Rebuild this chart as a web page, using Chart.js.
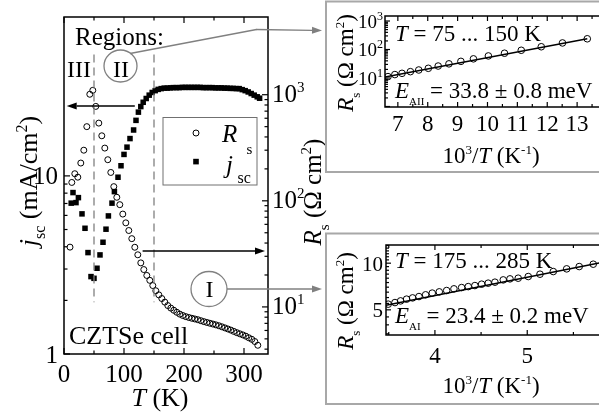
<!DOCTYPE html>
<html>
<head>
<meta charset="utf-8">
<script src="https://cdn.jsdelivr.net/npm/chart.js@4.4.0/dist/chart.umd.min.js"></script>
<style>
  html, body { margin: 0; padding: 0; background: #fff; }
  #wrap { position: relative; width: 599px; height: 417px; overflow: hidden; }
  #wrap canvas { position: absolute; left: 0; top: 0; }
</style>
</head>
<body>
<div id="wrap">
  <canvas id="mainChart" width="640" height="417"></canvas>
  <canvas id="topInset" width="640" height="417"></canvas>
  <canvas id="botInset" width="640" height="417"></canvas>
</div>
<script>
// main panel: series resistance R_s (right axis) and j_sc (left axis) vs T
const rsT = [10, 13, 18, 23, 28, 33, 38, 43, 48, 53, 58, 63, 68, 73, 78, 83, 88, 93, 98, 103,
  108, 113, 118, 123, 128, 133, 138, 143, 148, 153, 158, 163, 168, 173, 178, 183, 188, 193, 198, 203,
  208, 213, 218, 223, 228, 233, 238, 243, 248, 253, 258, 263, 268, 273, 278, 283, 288, 293, 298, 303,
  308, 313, 318, 323];
const rsVal = [36.6, 149, 180, 167, 227, 300, 500, 1010, 1100, 776, 540, 410, 314, 244, 185, 136, 108, 92, 75, 62,
  52.5, 44, 36.5, 31, 26, 22.5, 19.8, 17.8, 15.9, 14.2, 13.0, 12.0, 11.1, 10.3, 9.75, 9.3, 8.9, 8.55, 8.3, 8.1,
  7.95, 7.82, 7.7, 7.58, 7.42, 7.27, 7.14, 7.02, 6.9, 6.78, 6.65, 6.5, 6.35, 6.2, 6.05, 5.88, 5.72, 5.58, 5.45, 5.3,
  5.12, 4.95, 4.72, 4.35];

const jscT = [12, 15, 20, 24, 30, 35, 40, 45, 50, 55, 60, 65, 70, 74, 80, 84, 90, 95, 100, 105,
  110, 116, 120, 124, 128, 132, 137, 142, 147, 152, 157, 162, 167, 172, 177, 182, 187, 192, 197, 202,
  207, 212, 217, 222, 227, 232, 237, 242, 247, 252, 257, 262, 267, 272, 277, 282, 287, 292, 297, 302,
  307, 312, 317, 322, 326];
const jscVal = [7.03, 8.06, 7.08, 7.55, 6.12, 5.08, 3.71, 2.72, 2.66, 3.03, 3.6, 4.24, 5.02, 5.96, 7.03, 8.16, 9.83, 11.4, 13.2, 14.5,
  16.2, 18.1, 20.5, 22.8, 24.5, 25.9, 27.2, 28.4, 29.4, 30.1, 30.6, 30.9, 31.1, 31.1, 31.2, 31.3, 31.3, 31.3, 31.4, 31.4,
  31.4, 31.4, 31.4, 31.4, 31.4, 31.3, 31.3, 31.3, 31.3, 31.2, 31.2, 31.2, 31.1, 31.1, 31.0, 31.0, 30.9, 30.9, 30.5, 30.1,
  29.6, 29.0, 28.4, 27.8, 27.3];

const regionBorders = [50, 150];
const mainXTicks = [0, 100, 200, 300];
const jscTicks = [1, 10];
const rsTicks = [10, 100, 1000];
const rsTickExp = ['1', '2', '3'];

// inset II: T = 75 ... 150 K
const topX = [6.67, 6.90, 7.14, 7.42, 7.70, 8.02, 8.35, 8.71, 9.11, 9.53, 10.03, 10.57, 11.13, 11.80, 12.51, 13.34];
const topR = [11.2, 13.2, 14.6, 16.7, 19.1, 21.9, 26.3, 31.4, 38.4, 47, 59.5, 74, 94, 125, 170, 238];
const topFitX = [6.57, 13.34];
const topFitR = [10.8, 238];
const topXTicks = [7, 8, 9, 10, 11, 12, 13];
const topYTicks = [10, 100, 1000];
const topYExp = ['1', '2', '3'];

// inset I: T = 175 ... 285 K
const botX = [3.494, 3.567, 3.628, 3.693, 3.758, 3.827, 3.899, 3.971, 4.047, 4.127, 4.206, 4.289, 4.361,
  4.433, 4.506, 4.577, 4.650, 4.740, 4.813, 4.902, 5.011, 5.138, 5.282, 5.427, 5.563, 5.715];
const botR = [5.44, 5.57, 5.71, 5.86, 5.97, 6.09, 6.25, 6.41, 6.53, 6.66, 6.83, 6.96, 7.06,
  7.17, 7.32, 7.43, 7.54, 7.80, 7.92, 8.00, 8.20, 8.49, 8.83, 9.19, 9.51, 9.85];
const botFitX = [3.47, 5.86];
const botFitR = [5.35, 10.25];
const botXTicks = [4, 5];
const botYTicks = [5, 10];

const FONT = '"Liberation Serif", "Times New Roman", serif';

const pairs = (xs, ys) => xs.map((x, i) => ({ x, y: ys[i] }));

// minor ticks of a log axis (2..9 in each decade)
function logMinors(lo, hi) {
  const out = [];
  for (let d = lo; d < hi; d *= 10) {
    for (let m = 2; m <= 9; m++) out.push(m * d);
  }
  return out;
}

// text with italic / sub / sup parts: [text, style, size]
function drawRich(ctx, parts, x, y, size, align, rot) {
  const fonts = parts.map(([t, st, sz]) => {
    const s = sz || (st === 'sub' || st === 'sup' ? Math.round(size * 0.6) : size);
    return (st === 'i' ? 'italic ' : '') + s + 'px ' + FONT;
  });
  const widths = parts.map((p, i) => { ctx.font = fonts[i]; return ctx.measureText(p[0]).width; });
  const total = widths.reduce((a, b) => a + b, 0);
  ctx.save();
  ctx.translate(x, y);
  if (rot) ctx.rotate(rot);
  ctx.fillStyle = '#000';
  ctx.textAlign = 'left';
  ctx.textBaseline = 'alphabetic';
  let cx = align === 'center' ? -total / 2 : align === 'right' ? -total : 0;
  parts.forEach(([t, st], i) => {
    ctx.font = fonts[i];
    const dy = st === 'sub' ? size * 0.3 : st === 'sup' ? -size * 0.4 : 0;
    ctx.fillText(t, cx, dy);
    cx += widths[i];
  });
  ctx.restore();
}

function line(ctx, x1, y1, x2, y2) {
  ctx.beginPath();
  ctx.moveTo(x1, y1);
  ctx.lineTo(x2, y2);
  ctx.stroke();
}

function arrow(ctx, x1, y1, x2, y2, color, lw, head, half) {
  const a = Math.atan2(y2 - y1, x2 - x1);
  const c = Math.cos(a), s = Math.sin(a);
  ctx.strokeStyle = color;
  ctx.fillStyle = color;
  ctx.lineWidth = lw;
  line(ctx, x1, y1, x2 - head * c, y2 - head * s);
  ctx.beginPath();
  ctx.moveTo(x2, y2);
  ctx.lineTo(x2 - head * c + half * s, y2 - head * s - half * c);
  ctx.lineTo(x2 - head * c - half * s, y2 - head * s + half * c);
  ctx.closePath();
  ctx.fill();
}

// frame round the plot, inward ticks, tick labels
function drawAxes(chart, spec) {
  const { ctx, chartArea: a, scales } = chart;
  ctx.save();
  ctx.strokeStyle = '#000';
  ctx.lineWidth = spec.lw;
  ctx.strokeRect(a.left, a.top, a.right - a.left, a.bottom - a.top);
  ctx.lineWidth = 1.2;
  spec.ticks.forEach(t => {
    const sc = scales[t.scale];
    [[t.major, spec.majorLen], [t.minor, spec.minorLen]].forEach(([vals, len]) => {
      vals.forEach(v => {
        if (v < sc.min || v > sc.max) return;
        const p = sc.getPixelForValue(v);
        t.sides.forEach(side => {
          if (side === 'bottom') line(ctx, p, a.bottom, p, a.bottom - len);
          if (side === 'top') line(ctx, p, a.top, p, a.top + len);
          if (side === 'left') line(ctx, a.left, p, a.left + len, p);
          if (side === 'right') line(ctx, a.right, p, a.right - len, p);
        });
      });
    });
  });
  spec.labels.forEach(l => {
    const sc = scales[l.scale];
    l.values.forEach((v, i) => {
      const p = sc.getPixelForValue(v);
      const parts = l.texts[i];
      if (l.side === 'bottom') drawRich(ctx, parts, p, a.bottom + l.off, l.size, 'center');
      else if (l.side === 'left') drawRich(ctx, parts, a.left - l.off, p + l.dy, l.size, 'right');
      else drawRich(ctx, parts, a.right + l.off, p + l.dy, l.size, 'left');
    });
  });
  ctx.restore();
}

function hiddenScale(extra) {
  return Object.assign({
    grid: { display: false, drawTicks: false },
    border: { display: false },
    ticks: { display: false }
  }, extra);
}

const baseOptions = {
  responsive: false,
  animation: false,
  devicePixelRatio: 1,
  events: [],
  plugins: { legend: { display: false }, tooltip: { enabled: false } }
};

// ---------- main panel ----------
const mainAxes = {
  lw: 1.5, majorLen: 6, minorLen: 3.5,
  ticks: [
    { scale: 'x', sides: ['bottom', 'top'], major: mainXTicks, minor: [50, 150, 250] },
    { scale: 'yL', sides: ['left'], major: jscTicks, minor: logMinors(1, 10) },
    { scale: 'yR', sides: ['right'], major: rsTicks, minor: logMinors(1, 1000) }
  ],
  labels: [
    { scale: 'x', side: 'bottom', values: mainXTicks, texts: mainXTicks.map(v => [[String(v)]]), off: 28, size: 25 },
    { scale: 'yL', side: 'left', values: jscTicks, texts: jscTicks.map(v => [[String(v)]]), off: 6, dy: 8.5, size: 25 },
    { scale: 'yR', side: 'right', values: rsTicks, texts: rsTickExp.map(e => [['10'], [e, 'sup']]), off: 4, dy: 7.5, size: 25 }
  ]
};

const mainNotes = {
  id: 'mainNotes',
  afterDraw(chart) {
    const { ctx, scales: { x, yL, yR } } = chart;
    drawAxes(chart, mainAxes);
    ctx.save();

    // region borders
    ctx.strokeStyle = '#808080';
    ctx.lineWidth = 1.3;
    ctx.setLineDash([8, 5]);
    regionBorders.forEach(T => {
      const px = x.getPixelForValue(T);
      line(ctx, px, yL.getPixelForValue(48), px, yL.getPixelForValue(1.95));
    });
    ctx.setLineDash([]);

    // arrows to the axes
    arrow(ctx, x.getPixelForValue(118), yL.getPixelForValue(24.7), x.getPixelForValue(4.5), yL.getPixelForValue(24.7), '#000', 1.6, 10, 3.5);
    arrow(ctx, x.getPixelForValue(131), yR.getPixelForValue(33.7), x.getPixelForValue(335), yR.getPixelForValue(33.7), '#000', 1.6, 10, 3.5);

    // region labels
    drawRich(ctx, [['Regions:']], 75, 45, 25, 'left');
    drawRich(ctx, [['III']], 67, 77, 24, 'left');
    ctx.strokeStyle = '#808080';
    ctx.lineWidth = 1.3;
    ctx.beginPath();
    ctx.ellipse(120.5, 66, 16.5, 16, 0, 0, Math.PI * 2);
    ctx.stroke();
    drawRich(ctx, [['II']], 121, 77, 24, 'center');
    ctx.beginPath();
    ctx.ellipse(209, 289, 18, 17.5, 0, 0, Math.PI * 2);
    ctx.stroke();
    drawRich(ctx, [['I']], 209.5, 297, 24, 'center');

    // links to the insets
    ctx.strokeStyle = '#808080';
    ctx.lineWidth = 1.3;
    ctx.beginPath();
    ctx.moveTo(130, 53.5);
    ctx.lineTo(256.5, 29.5);
    ctx.stroke();
    arrow(ctx, 256, 29.5, 322, 30.5, '#808080', 1.3, 10, 3.5);
    arrow(ctx, 227, 289, 322, 289, '#808080', 1.3, 10, 3.5);

    // legend
    ctx.strokeStyle = '#707070';
    ctx.lineWidth = 1;
    ctx.strokeRect(163, 117.5, 94, 67.5);
    ctx.strokeStyle = '#000';
    ctx.beginPath();
    ctx.arc(196, 133, 3, 0, Math.PI * 2);
    ctx.stroke();
    ctx.fillStyle = '#000';
    ctx.fillRect(193.2, 158.8, 5.6, 5.6);
    drawRich(ctx, [['R', 'i']], 222, 142, 25, 'left');
    drawRich(ctx, [['s']], 246.5, 154, 15, 'left');
    drawRich(ctx, [['j', 'i']], 226, 173, 25, 'left');
    drawRich(ctx, [['sc']], 237.5, 183, 16, 'left');

    drawRich(ctx, [['CZTSe cell']], 69, 344, 26, 'left');

    // axis titles
    drawRich(ctx, [['T', 'i'], [' (K)']], 160, 406, 26, 'center');
    drawRich(ctx, [['j', 'i'], ['sc', 'sub', 16], [' (mA/cm'], ['2', 'sup'], [')']], 37, 181, 26, 'center', -Math.PI / 2);
    drawRich(ctx, [['R', 'i'], ['s', 'sub', 15], [' (\u03A9 cm'], ['2', 'sup'], [')']], 321, 192, 25, 'center', -Math.PI / 2);
    ctx.restore();
  }
};

new Chart(document.getElementById('mainChart'), {
  type: 'scatter',
  data: {
    datasets: [
      {
        label: 'jsc', data: pairs(jscT, jscVal), yAxisID: 'yL',
        pointStyle: 'rect', pointRadius: 3.9, pointBackgroundColor: '#000', pointBorderColor: '#000', pointBorderWidth: 0
      },
      {
        label: 'Rs', data: pairs(rsT, rsVal), yAxisID: 'yR',
        pointStyle: 'circle', pointRadius: 3, pointBackgroundColor: 'rgba(0,0,0,0)', pointBorderColor: '#000', pointBorderWidth: 1
      }
    ]
  },
  options: Object.assign({}, baseOptions, {
    layout: { padding: { top: 17, left: 0, right: 0, bottom: 0 } },
    scales: {
      x: hiddenScale({ type: 'linear', min: 0, max: 340, afterFit: s => { s.height = 63; } }),
      yL: hiddenScale({ type: 'logarithmic', position: 'left', min: 1, max: 78, afterFit: s => { s.width = 64; } }),
      yR: hiddenScale({ type: 'logarithmic', position: 'right', min: 3.6, max: 5400, afterFit: s => { s.width = 372; } })
    }
  }),
  plugins: [mainNotes]
});

// ---------- insets ----------
const rsTitle = [['R', 'i'], ['s', 'sub', 13], [' (\u03A9 cm'], ['2', 'sup', 13], [')']];
const invTTitle = [['10'], ['3', 'sup', 13], ['/'], ['T', 'i'], [' (K'], ['-1', 'sup', 13], [')']];

function insetChart(id, pts, fit, xr, yr, pad, yWidth, xHeight, axes, notes) {
  return new Chart(document.getElementById(id), {
    type: 'scatter',
    data: {
      datasets: [
        {
          label: 'fit', data: fit, showLine: true, pointRadius: 0,
          borderColor: '#000', borderWidth: 1.4
        },
        {
          label: 'Rs', data: pts, pointStyle: 'circle', pointRadius: 3.3,
          pointBackgroundColor: 'rgba(0,0,0,0)', pointBorderColor: '#000', pointBorderWidth: 1
        }
      ]
    },
    options: Object.assign({}, baseOptions, {
      layout: { padding: pad },
      scales: {
        x: hiddenScale({ type: 'linear', min: xr[0], max: xr[1], afterFit: s => { s.height = xHeight; } }),
        y: hiddenScale({ type: 'logarithmic', min: yr[0], max: yr[1], afterFit: s => { s.width = yWidth; } })
      }
    }),
    plugins: [{
      id: 'insetNotes',
      beforeDraw(chart) {
        const ctx = chart.ctx;
        ctx.save();
        ctx.strokeStyle = '#a8a8a8';
        ctx.lineWidth = 2;
        ctx.strokeRect(notes.box[0], notes.box[1], 340, notes.box[2]);
        ctx.restore();
      },
      afterDraw(chart) {
        const ctx = chart.ctx;
        drawAxes(chart, axes);
        notes.texts.forEach(([parts, x, y, size]) => drawRich(ctx, parts, x, y, size, 'left'));
        drawRich(ctx, invTTitle, 491, notes.xTitleY, 23, 'center');
        drawRich(ctx, rsTitle, 353, notes.yTitleY, 23, 'center', -Math.PI / 2);
      }
    }]
  });
}

const halfSteps = (lo, hi) => { const out = []; for (let v = lo; v <= hi + 1e-9; v += 0.5) out.push(v); return out; };

insetChart('topInset', pairs(topX, topR), pairs(topFitX, topFitR), [6.57, 14], [0.96, 1500],
  { top: 16, left: 0, right: 33, bottom: 0 }, 385, 310,
  {
    lw: 1.5, majorLen: 5, minorLen: 3,
    ticks: [
      { scale: 'x', sides: ['bottom', 'top'], major: [7, 8, 9, 10, 11, 12, 13, 14], minor: halfSteps(6.5, 13.5).filter(v => v % 1) },
      { scale: 'y', sides: ['left', 'right'], major: [1, 10, 100, 1000], minor: logMinors(1, 1000) }
    ],
    labels: [
      { scale: 'x', side: 'bottom', values: topXTicks, texts: topXTicks.map(v => [[String(v)]]), off: 24, size: 23 },
      { scale: 'y', side: 'left', values: topYTicks, texts: topYExp.map(e => [['10'], [e, 'sup', 12]]), off: 2, dy: 6.5, size: 19 }
    ]
  },
  {
    box: [326, 1.5, 170.5],
    xTitleY: 163, yTitleY: 63,
    texts: [
      [[['T', 'i'], [' = 75 ... 150 K']], 395, 41, 23],
      [[['E', 'i'], ['AII', 'sub', 11], [' = 33.8 \u00B1 0.8 meV']], 395, 98, 23]
    ]
  });

insetChart('botInset', pairs(botX, botR), pairs(botFitX, botFitR), [3.47, 5.864], [3.44, 13.1],
  { top: 245, left: 0, right: 33, bottom: 0 }, 386, 82,
  {
    lw: 1.5, majorLen: 5, minorLen: 3,
    ticks: [
      { scale: 'x', sides: ['bottom', 'top'], major: [4, 5], minor: [3.5, 4.5, 5.5] },
      { scale: 'y', sides: ['left', 'right'], major: [5, 10], minor: halfSteps(3.5, 13).filter(v => v !== 5 && v !== 10) }
    ],
    labels: [
      { scale: 'x', side: 'bottom', values: botXTicks, texts: botXTicks.map(v => [[String(v)]]), off: 28, size: 23 },
      { scale: 'y', side: 'left', values: botYTicks, texts: botYTicks.map(v => [[String(v)]]), off: 3, dy: 7.5, size: 21 }
    ]
  },
  {
    box: [326, 233.5, 170.5],
    xTitleY: 393, yTitleY: 301,
    texts: [
      [[['T', 'i'], [' = 175 ... 285 K']], 395, 268, 23],
      [[['E', 'i'], ['AI', 'sub', 11], [' = 23.4 \u00B1 0.2 meV']], 395, 323, 23]
    ]
  });
</script>
</body>
</html>
